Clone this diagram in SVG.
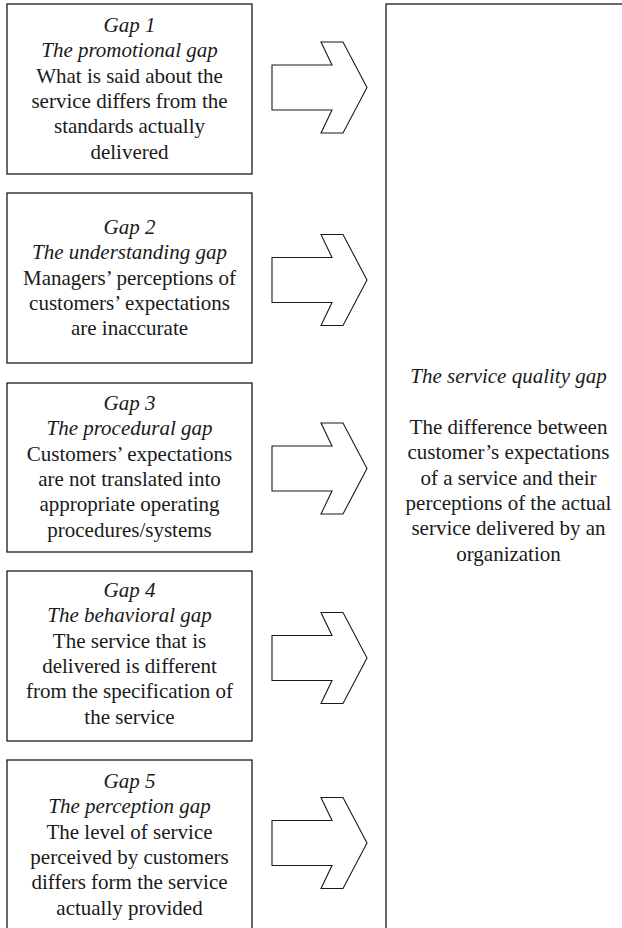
<svg xmlns="http://www.w3.org/2000/svg" width="622" height="928" viewBox="0 0 622 928">
<style>
.box{fill:#fff;stroke:#1a1a1a;stroke-width:1.3}
.arr{fill:#fff;stroke:#1a1a1a;stroke-width:1.1;stroke-linejoin:miter}
text{font-family:"Liberation Serif","Times New Roman",serif;font-size:21px;fill:#1a1a1a;text-anchor:middle}
.it{font-style:italic}
</style>
<rect width="622" height="928" fill="#fff"/>
<g id="quality-gap">
<rect class="box" x="386" y="4" width="260" height="940"/>
<text x="508.5" y="383" class="it">The service quality gap</text>
<text x="508.5" y="434">The difference between</text>
<text x="508.5" y="459.3">customer’s expectations</text>
<text x="508.5" y="484.6">of a service and their</text>
<text x="508.5" y="509.9">perceptions of the actual</text>
<text x="508.5" y="535.2">service delivered by an</text>
<text x="508.5" y="560.5">organization</text>
</g>
<g id="gap1">
<rect class="box" x="7" y="4" width="245" height="170"/>
<text x="129.5" y="32" class="it">Gap 1</text>
<text x="129.5" y="57.3" class="it">The promotional gap</text>
<text x="129.5" y="82.6">What is said about the</text>
<text x="129.5" y="107.9">service differs from the</text>
<text x="129.5" y="133.2">standards actually</text>
<text x="129.5" y="158.5">delivered</text>
</g>
<g id="gap2">
<rect class="box" x="7" y="193" width="245" height="170"/>
<text x="129.5" y="234" class="it">Gap 2</text>
<text x="129.5" y="259.3" class="it">The understanding gap</text>
<text x="129.5" y="284.6">Managers’ perceptions of</text>
<text x="129.5" y="309.9">customers’ expectations</text>
<text x="129.5" y="335.2">are inaccurate</text>
</g>
<g id="gap3">
<rect class="box" x="7" y="383" width="245" height="169"/>
<text x="129.5" y="410" class="it">Gap 3</text>
<text x="129.5" y="435.3" class="it">The procedural gap</text>
<text x="129.5" y="460.6">Customers’ expectations</text>
<text x="129.5" y="485.9">are not translated into</text>
<text x="129.5" y="511.2">appropriate operating</text>
<text x="129.5" y="536.5">procedures/systems</text>
</g>
<g id="gap4">
<rect class="box" x="7" y="571" width="245" height="170"/>
<text x="129.5" y="597" class="it">Gap 4</text>
<text x="129.5" y="622.3" class="it">The behavioral gap</text>
<text x="129.5" y="647.6">The service that is</text>
<text x="129.5" y="672.9">delivered is different</text>
<text x="129.5" y="698.2">from the specification of</text>
<text x="129.5" y="723.5">the service</text>
</g>
<g id="gap5">
<rect class="box" x="7" y="760" width="245" height="190"/>
<text x="129.5" y="788" class="it">Gap 5</text>
<text x="129.5" y="813.3" class="it">The perception gap</text>
<text x="129.5" y="838.6">The level of service</text>
<text x="129.5" y="863.9">perceived by customers</text>
<text x="129.5" y="889.2">differs form the service</text>
<text x="129.5" y="914.5">actually provided</text>
</g>
<g id="connectors">
<path class="arr" d="M272,65 H332 L321,42 H343 L367,87.5 L343,133 H321 L332,110 H272 Z"/>
<path class="arr" d="M272,257.5 H332 L321,234.5 H343 L367,280 L343,325.5 H321 L332,302.5 H272 Z"/>
<path class="arr" d="M272,446 H332 L321,423 H343 L367,468.5 L343,514 H321 L332,491 H272 Z"/>
<path class="arr" d="M272,635.5 H332 L321,612.5 H343 L367,658 L343,703.5 H321 L332,680.5 H272 Z"/>
<path class="arr" d="M272,820.5 H332 L321,797.5 H343 L367,843 L343,888.5 H321 L332,865.5 H272 Z"/>
</g>
</svg>
